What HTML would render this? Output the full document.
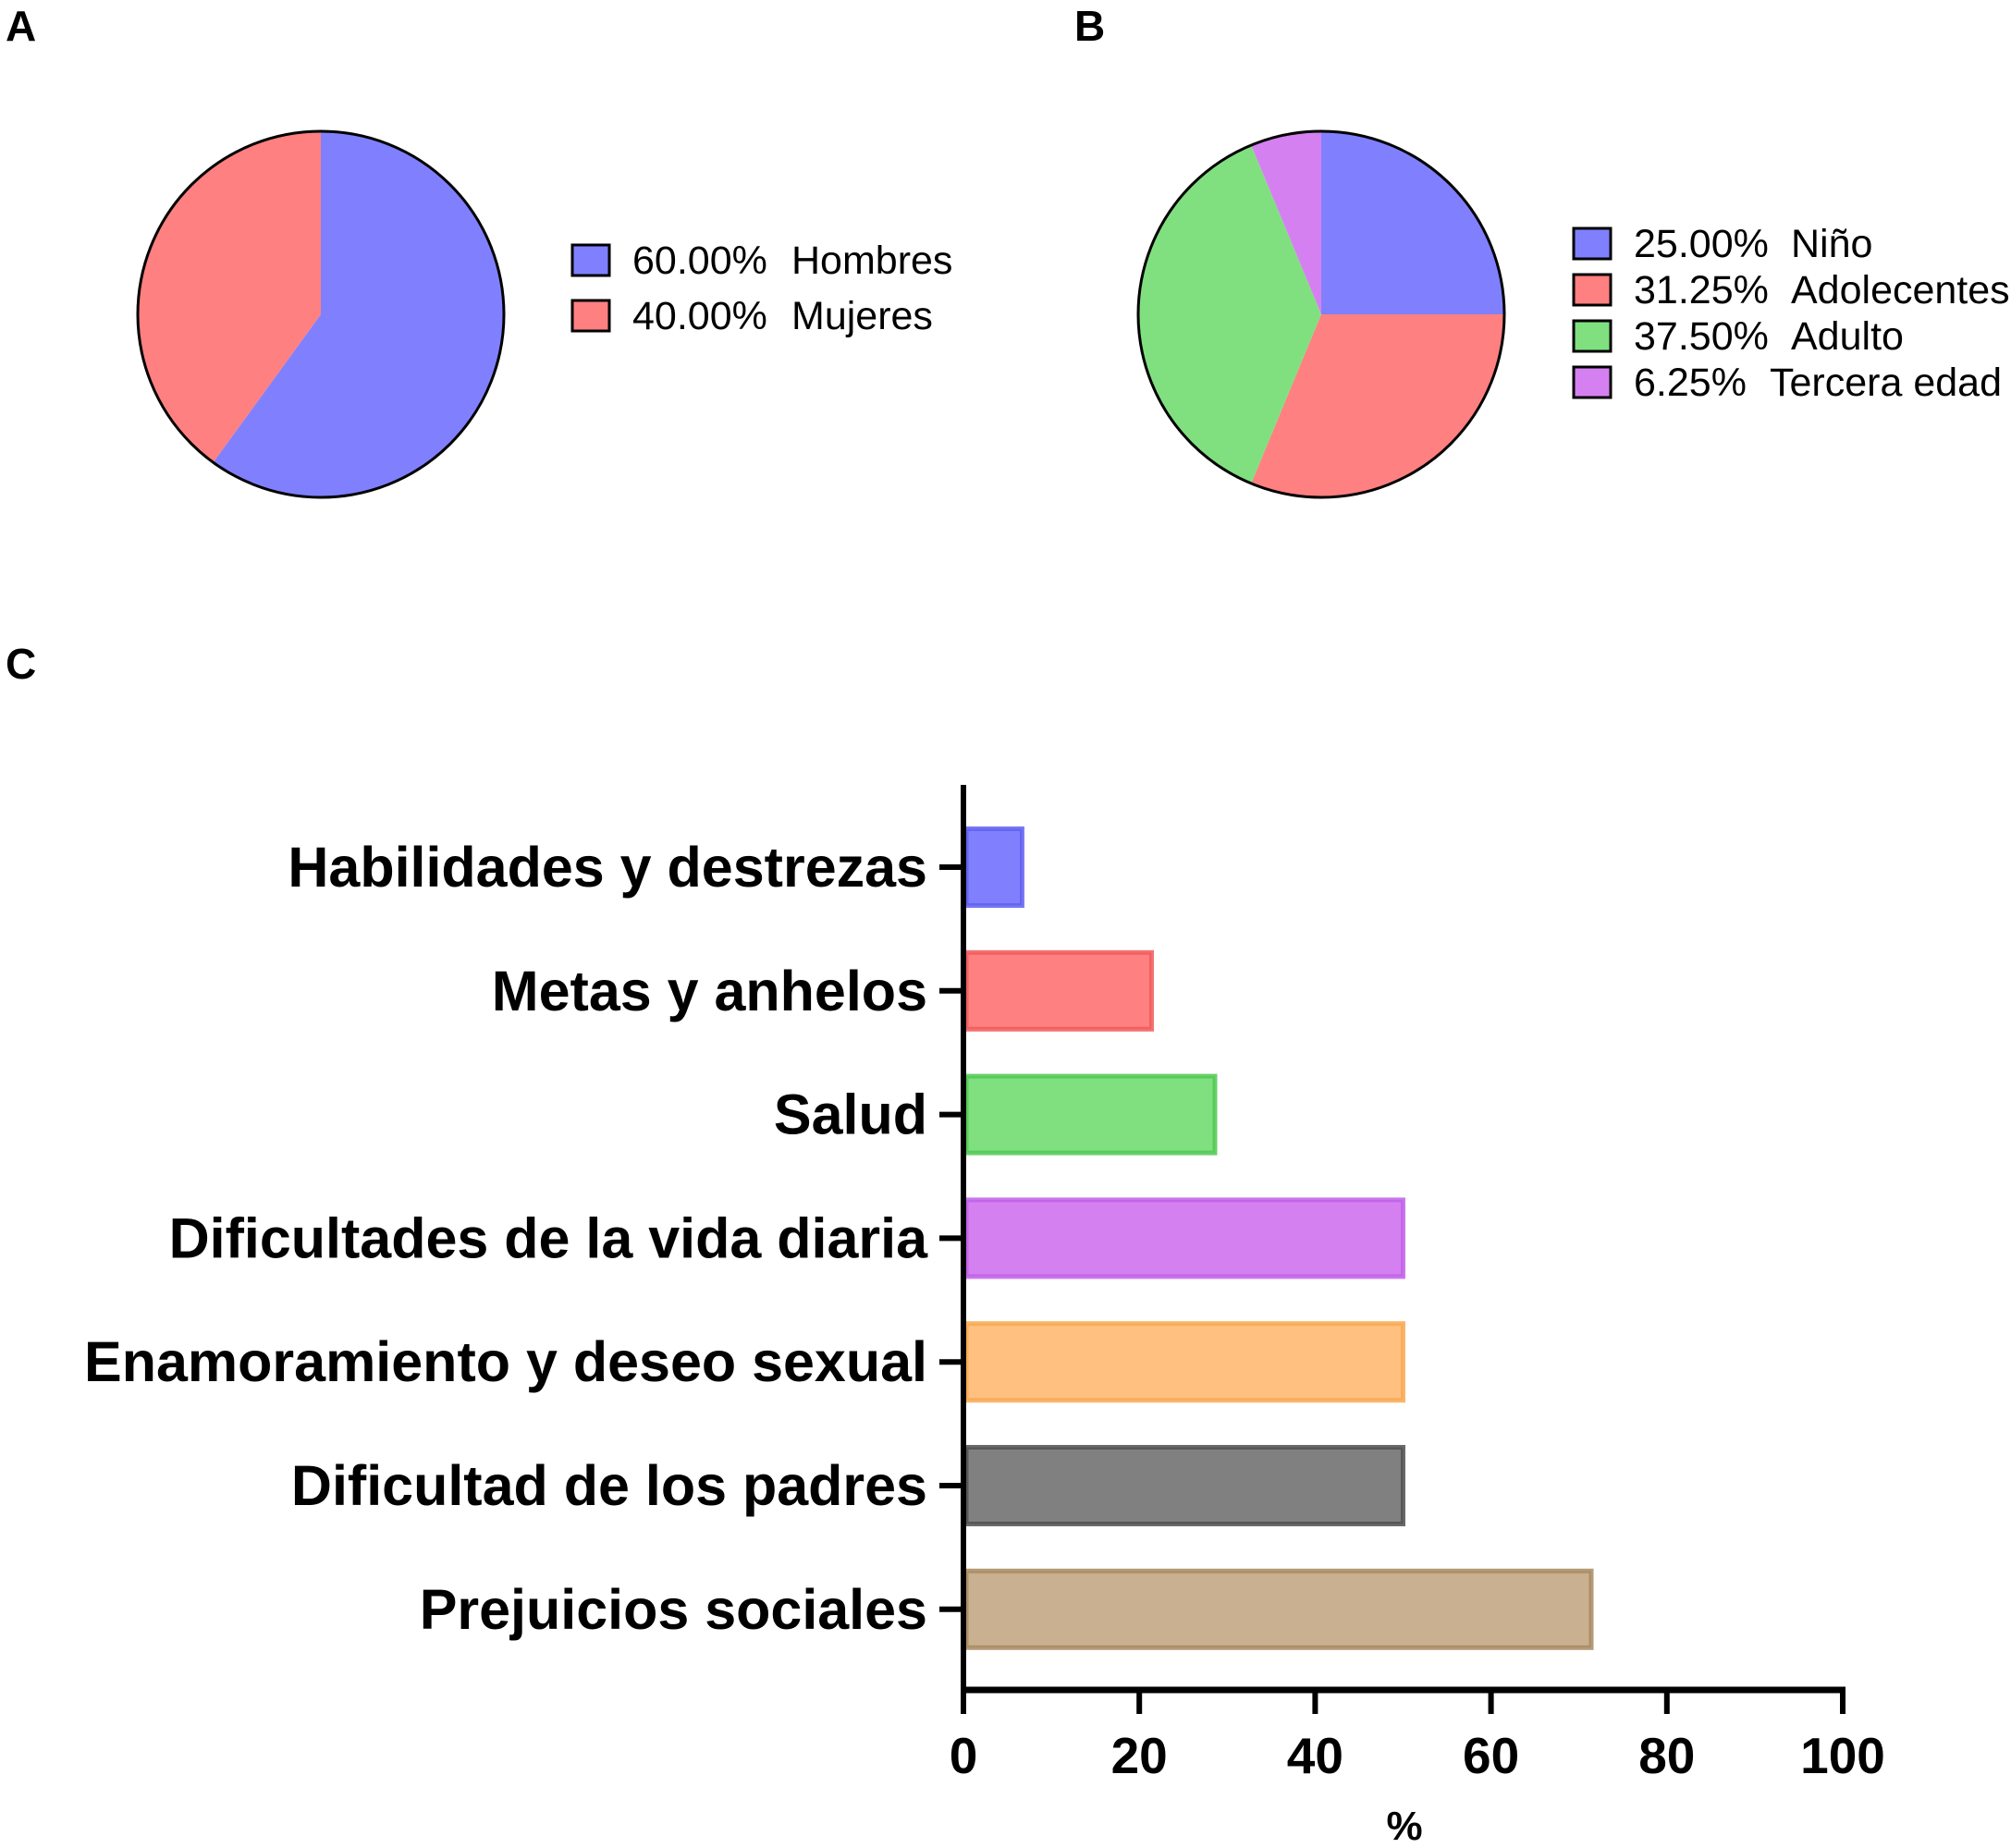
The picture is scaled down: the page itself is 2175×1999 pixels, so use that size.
<!DOCTYPE html>
<html><head><meta charset="utf-8"><style>
html,body{margin:0;padding:0;background:#fff;}
svg{display:block;font-family:"Liberation Sans",Arial,sans-serif;}
</style></head><body>
<svg id="fig" width="2175" height="1999" viewBox="0 0 2175 1999">
<text x="6" y="44" font-size="46" font-weight="bold">A</text>
<text x="1162" y="44" font-size="46" font-weight="bold">B</text>
<text x="6" y="734" font-size="46" font-weight="bold">C</text>
<g id="pieA"></g>
<g id="pieB"></g>
<g id="legA"></g>
<g id="legB"></g>
<g id="bars"></g>
</svg>
<script>
const pieALabels = ["Hombres","Mujeres"];
const pieAValues = [60.00, 40.00];
const pieAColors = ["#8080ff","#ff8080"];
const pieBLabels = ["Niño","Adolecentes","Adulto","Tercera edad"];
const pieBValues = [25.00, 31.25, 37.50, 6.25];
const pieBColors = ["#8080ff","#ff8080","#80e080","#d580f0"];
const barCategories = ["Habilidades y destrezas","Metas y anhelos","Salud","Dificultades de la vida diaria","Enamoramiento y deseo sexual","Dificultad de los padres","Prejuicios sociales"];
const barValues = [6.67, 21.4, 28.6, 50, 50, 50, 71.4];
const barFills = ["#8080ff","#ff8080","#80e080","#d580f0","#ffc080","#808080","#c8b090"];
const barStrokes = ["#6060f0","#f05a5a","#50c850","#c060e8","#f8a850","#505050","#a88a60"];
const xTicks = [0,20,40,60,80,100];

const NS="http://www.w3.org/2000/svg";
function mk(tag,attrs,parent){const e=document.createElementNS(NS,tag);for(const k in attrs)e.setAttribute(k,attrs[k]);parent.appendChild(e);return e;}

function pie(g,cx,cy,r,vals,cols,prefix){
  const tot=vals.reduce((a,b)=>a+b,0);let a0=-Math.PI/2;
  vals.forEach((v,i)=>{
    const a1=a0+v/tot*2*Math.PI;
    const x0=cx+r*Math.cos(a0),y0=cy+r*Math.sin(a0),x1=cx+r*Math.cos(a1),y1=cy+r*Math.sin(a1);
    const large=(a1-a0)>Math.PI?1:0;
    const p=mk('path',{d:`M${cx},${cy}L${x0},${y0}A${r},${r} 0 ${large} 1 ${x1},${y1}Z`,fill:cols[i]},g);
    
    
    a0=a1;
  });
  const c=mk('circle',{cx:cx,cy:cy,r:r,fill:'none',stroke:'#000','stroke-width':3},g);
  
  
}
pie(document.getElementById('pieA'),347,340,198,pieAValues,pieAColors,'sex');
pie(document.getElementById('pieB'),1429,340,198,pieBValues,pieBColors,'age');

function legend(g,x,y0,step,labels,vals,cols,prefix,gap){
  labels.forEach((l,i)=>{
    const y=y0+i*step;
    const r=mk('rect',{x:x,y:y,width:40,height:33,fill:cols[i],stroke:'#000','stroke-width':3},g);
    
    
    const t=mk('text',{x:x+65,y:y+31,'font-size':43},g);
    t.textContent=vals[i].toFixed(2)+'%';
    
    
    const t2=mk('text',{x:x+65+gap,y:y+31,'font-size':43},g);
    t2.textContent=l;
    
    
  });
}
legend(document.getElementById('legA'),619,265,60,pieALabels,pieAValues,pieAColors,'sex',172);
legend(document.getElementById('legB'),1702,247,50,pieBLabels,pieBValues,pieBColors,'age',170);
document.querySelectorAll('#legB text')[7].setAttribute('x',1702+65+147);

const g=document.getElementById('bars');
const x0=1042,x1=1993,yTop=849,yAxis=1828;
const xs=v=>x0+(v/100)*(x1-x0);
const cy0=938,step=133.8,bh=83;
barCategories.forEach((c,i)=>{
  const cy=cy0+i*step;
  const r=mk('rect',{x:x0+3,y:cy-bh/2,width:xs(barValues[i])-x0-3,height:bh,fill:barFills[i],stroke:barStrokes[i],'stroke-width':5,'stroke-opacity':0.85},g);
  
  
  const tk=mk('line',{x1:x0-26,x2:x0,y1:cy,y2:cy,stroke:'#000','stroke-width':6},g);
  
  
  const t=mk('text',{x:1003,y:cy+21,'font-size':61,'font-weight':'bold','text-anchor':'end'},g);
  t.textContent=c;
  
  
});
const ya=mk('line',{x1:x0,x2:x0,y1:yTop,y2:yAxis+3,stroke:'#000','stroke-width':6},g);


const xa=mk('line',{x1:x0-3,x2:x1+3,y1:yAxis,y2:yAxis,stroke:'#000','stroke-width':7},g);


xTicks.forEach((v,i)=>{
  const l=mk('line',{x1:xs(v),x2:xs(v),y1:yAxis,y2:yAxis+26,stroke:'#000','stroke-width':6},g);
  
  
  const t=mk('text',{x:xs(v),y:1918,'font-size':55,'font-weight':'bold','text-anchor':'middle'},g);
  t.textContent=v;
  
  
});
const xt=mk('text',{x:1519,y:1990,'font-size':44,'font-weight':'bold','text-anchor':'middle'},g);
xt.textContent='%';


</script>
</body></html>
